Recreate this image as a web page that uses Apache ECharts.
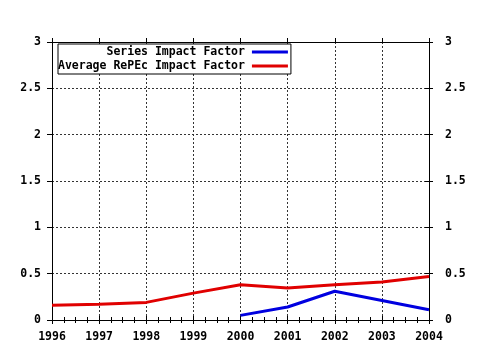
<!DOCTYPE html>
<html>
<head>
<meta charset="utf-8">
<script src="https://cdn.jsdelivr.net/npm/echarts@6/dist/echarts.min.js"></script>
<style>html,body{margin:0;padding:0;background:#fff}#c{width:480px;height:350px}</style>
</head>
<body>
<div id="c"></div>
<script>
var years = [1996, 1997, 1998, 1999, 2000, 2001, 2002, 2003, 2004];
var seriesIF = [null, null, null, null, 0.05, 0.14, 0.31, 0.21, 0.11];
var averageIF = [0.16, 0.17, 0.19, 0.29, 0.38, 0.345, 0.38, 0.41, 0.47];
var yTicks = [0, 0.5, 1, 1.5, 2, 2.5, 3];
var names = ['Series Impact Factor', 'Average RePEc Impact Factor'];

function pairs(vals) {
  var out = [];
  for (var i = 0; i < years.length; i++) {
    if (vals[i] !== null) out.push([years[i], vals[i]]);
  }
  return out;
}

var FONT = 'DejaVu Sans Mono';
var labelStyle = { color: '#000', fontFamily: FONT, fontWeight: 'bold', fontSize: 11.5 };
var lineStyleAxis = { color: '#000', width: 1 };
var gridStyle = { color: '#333', width: 1, type: [2, 2] };

function xAx(pos, opts) {
  var base = {
    type: 'value', position: pos, min: years[0], max: years[years.length - 1], interval: 1,
    axisLine: { show: false, lineStyle: lineStyleAxis },
    axisLabel: { show: false },
    axisTick: { show: false },
    splitLine: { show: false },
    minorTick: { show: false }
  };
  for (var k in opts) base[k] = opts[k];
  return base;
}
function yAx(pos, opts) {
  var base = {
    type: 'value', position: pos, min: yTicks[0], max: yTicks[yTicks.length - 1], interval: 0.5,
    axisLine: { show: false, lineStyle: lineStyleAxis },
    axisLabel: { show: false },
    axisTick: { show: false },
    splitLine: { show: false }
  };
  for (var k in opts) base[k] = opts[k];
  return base;
}

var chart = echarts.init(document.getElementById('c'), null, { renderer: 'canvas' });
chart.setOption({
  animation: false,
  backgroundColor: '#fff',
  grid: { left: 52, right: 51, top: 42, bottom: 30, containLabel: false },
  xAxis: [
    xAx('bottom', {
      axisLine: { show: true, onZero: false, lineStyle: lineStyleAxis },
      axisLabel: Object.assign({ show: true, margin: 11, formatter: function (v) { return String(v); } }, labelStyle),
      axisTick: { show: true, inside: false, length: 4, lineStyle: lineStyleAxis },
      splitLine: { show: true, lineStyle: gridStyle }
    }),
    xAx('bottom', {
      axisTick: { show: true, inside: true, length: 4, lineStyle: lineStyleAxis },
      minorTick: { show: true, splitNumber: 4, length: 3, lineStyle: lineStyleAxis }
    }),
    xAx('top', {
      axisLine: { show: true, onZero: false, lineStyle: lineStyleAxis },
      axisTick: { show: true, inside: false, length: 4, lineStyle: lineStyleAxis }
    }),
    xAx('top', {
      axisTick: { show: true, inside: true, length: 4, lineStyle: lineStyleAxis },
      minorTick: { show: true, splitNumber: 4, length: 3, lineStyle: lineStyleAxis }
    })
  ],
  yAxis: [
    yAx('left', {
      axisLine: { show: true, onZero: false, lineStyle: lineStyleAxis },
      axisLabel: Object.assign({ show: true, margin: 11 }, labelStyle),
      axisTick: { show: true, inside: false, length: 5, lineStyle: lineStyleAxis },
      splitLine: { show: true, lineStyle: gridStyle }
    }),
    yAx('right', {
      axisLine: { show: true, onZero: false, lineStyle: lineStyleAxis },
      axisLabel: Object.assign({ show: true, margin: 16 }, labelStyle),
      axisTick: { show: true, inside: false, length: 4, lineStyle: lineStyleAxis }
    }),
    yAx('right', {
      axisTick: { show: true, inside: true, length: 4, lineStyle: lineStyleAxis }
    })
  ],
  legend: {
    show: true,
    orient: 'vertical',
    left: 58, top: 44,
    align: 'right',
    padding: [1, 3, 1, 0],
    itemGap: 0,
    itemWidth: 36, itemHeight: 3,
    icon: 'rect',
    borderColor: '#000', borderWidth: 1, borderRadius: 0,
    backgroundColor: '#fff',
    selectedMode: false,
    textStyle: Object.assign({ width: 186, align: 'right', lineHeight: 14, padding: [0, 2, 0, 0] }, labelStyle),
    data: names
  },
  series: [
    {
      name: names[0], type: 'line', data: pairs(seriesIF),
      xAxisIndex: 0, yAxisIndex: 0,
      showSymbol: false, symbol: 'none', z: 3,
      itemStyle: { color: '#0000e0' },
      lineStyle: { color: '#0000e0', width: 3 }
    },
    {
      name: names[1], type: 'line', data: pairs(averageIF),
      xAxisIndex: 0, yAxisIndex: 0,
      showSymbol: false, symbol: 'none', z: 2,
      itemStyle: { color: '#e00000' },
      lineStyle: { color: '#e00000', width: 3 }
    }
  ]
});
</script>
</body>
</html>
